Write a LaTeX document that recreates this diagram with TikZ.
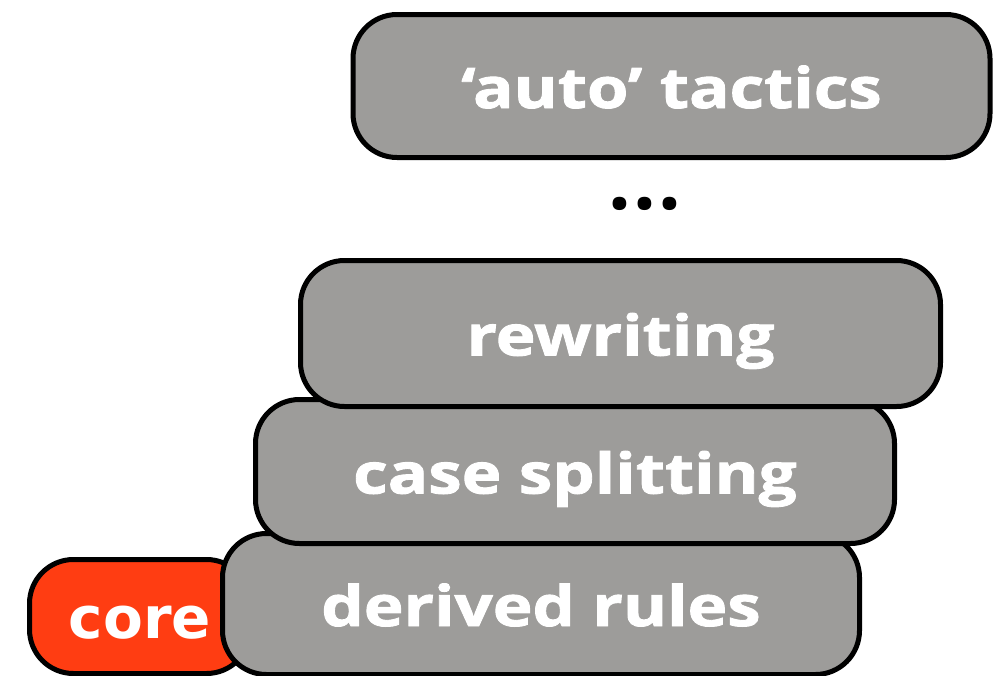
\documentclass[tikz,border=0pt]{standalone}
\usepackage{fontspec}
\newfontfamily\gillfont[FakeStretch=1.2, FakeBold=1.6]{Open Sans}
\newfontfamily\dotfont{Open Sans}
\newfontfamily\corefont{DejaVu Sans}
\definecolor{layergray}{HTML}{9D9C9A}
\definecolor{corered}{HTML}{FF3D12}
\begin{document}
\begin{tikzpicture}[x=1pt, y=-1pt,
  layerbox/.style={draw=black, line width=5pt, rounded corners=44pt, fill=layergray,
    inner sep=0pt, text=white, font=\gillfont\bfseries\fontsize{56}{60}\selectfont,
    text height=44pt, text depth=0pt},
  corebox/.style={layerbox, fill=corered, font=\corefont\bfseries\fontsize{58}{60}\selectfont}]
\useasboundingbox (0,0) rectangle (993,675);
\node[corebox, minimum width=221pt, minimum height=114pt] (core) at (140,616.5) {core};
\node[layerbox, minimum width=637pt, minimum height=141pt] (derived) at (541,604) {derived rules};
\node[layerbox, minimum width=639pt, minimum height=144pt] (case) at (575,471.5) {case splitting};
\node[layerbox, minimum width=640pt, minimum height=146pt] (rewrite) at (620.5,333.5) {rewriting};
\node[layerbox, minimum width=637pt, minimum height=143pt] (auto) at (671.5,86) {‘auto’ tactics};
\node[anchor=base, inner sep=0pt, font=\dotfont\bfseries\fontsize{80}{80}\selectfont] (dots) at (645,209.5) {.\hspace{2.5pt}.\hspace{2.5pt}.};
\end{tikzpicture}
\end{document}
